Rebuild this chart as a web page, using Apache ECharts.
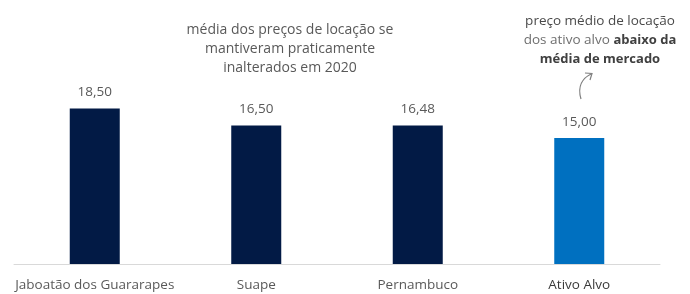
<!DOCTYPE html>
<html lang="pt">
<head>
  <meta charset="UTF-8">
  <script src="https://cdn.jsdelivr.net/npm/echarts@6/dist/echarts.min.js"></script>
  <style>
    html, body { margin: 0; padding: 0; background: #fff; }
    #chart { width: 690px; height: 294px; }
  </style>
</head>
<body>
  <div id="chart"></div>
  <script>
    // dados
    const categorias = ['Jaboatão dos Guararapes', 'Suape', 'Pernambuco', 'Ativo Alvo'];
    const precos = [18.50, 16.50, 16.48, 15.00];
    const destaque = 'Ativo Alvo';

    const escuro = '#021a45';
    const azul = '#0070c0';
    const fonte = '"Open Sans", sans-serif';

    const chart = echarts.init(document.getElementById('chart'));
    chart.setOption({
      animation: false,
      grid: { left: 14, right: 30, top: 12, bottom: 30 },
      xAxis: {
        type: 'category',
        data: categorias,
        axisLine: { lineStyle: { color: '#d9d9d9' } },
        axisTick: { length: 6, lineStyle: { color: '#d9d9d9' } },
        axisLabel: {
          interval: 0,
          margin: 14,
          fontFamily: fonte,
          fontSize: 13.5,
          color: v => v === destaque ? '#3a3a3a' : '#595959'
        }
      },
      yAxis: {
        type: 'value',
        min: 0,
        max: 30,
        show: false,
        splitLine: { show: false }
      },
      series: [{
        type: 'bar',
        barWidth: 50,
        data: precos.map((v, i) => ({
          value: v,
          itemStyle: { color: categorias[i] === destaque ? azul : escuro }
        })),
        label: {
          show: true,
          position: 'top',
          distance: 9,
          fontFamily: fonte,
          fontSize: 13.5,
          color: '#595959',
          formatter: p => p.value.toFixed(2).replace('.', ',')
        }
      }],
      graphic: [
        {
          type: 'text',
          x: 290,
          y: 21,
          style: {
            text: 'média dos preços de locação se\nmantiveram praticamente\ninalterados em 2020',
            textAlign: 'center',
            fontFamily: fonte,
            fontSize: 14,
            lineHeight: 19,
            fill: '#595959'
          }
        },
        {
          type: 'text',
          x: 600,
          y: 12,
          style: {
            text: '{n|preço médio de locação}\n{l|dos ativo alvo }{b|abaixo da}\n{b|média de mercado}',
            textAlign: 'center',
            fontFamily: fonte,
            fontSize: 13.5,
            lineHeight: 19,
            rich: {
              n: { fontFamily: fonte, fontSize: 13.5, lineHeight: 19, fill: '#4a4a4a' },
              l: { fontFamily: fonte, fontSize: 13.5, lineHeight: 19, fill: '#6f6f6f' },
              b: { fontFamily: fonte, fontSize: 13, lineHeight: 19, fontWeight: 'bold', fill: '#404040' }
            }
          }
        },
        {
          type: 'bezierCurve',
          shape: { x1: 581, y1: 99, x2: 591, y2: 74, cpx1: 577, cpy1: 86, cpx2: 583, cpy2: 78 },
          style: { stroke: '#7f7f7f', lineWidth: 1.2, fill: null }
        },
        {
          type: 'polyline',
          shape: { points: [[585, 73], [592, 73.5], [590, 80]] },
          style: { stroke: '#7f7f7f', lineWidth: 1.2, fill: null }
        }
      ]
    });
  </script>
</body>
</html>
